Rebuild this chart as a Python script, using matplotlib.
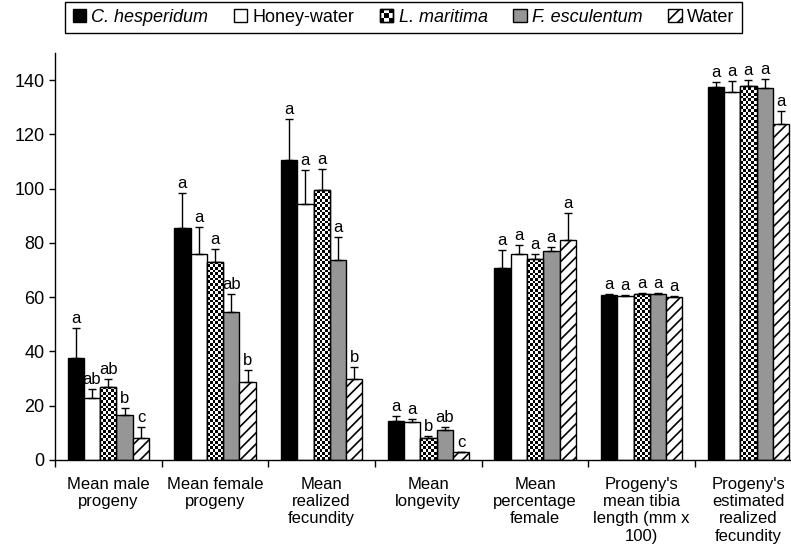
import numpy as np
import matplotlib
matplotlib.use("Agg")
import matplotlib.pyplot as plt
from matplotlib.patches import Rectangle
from matplotlib.legend_handler import HandlerBase

plt.rcParams['font.family'] = ['Liberation Sans', 'DejaVu Sans']
plt.rcParams['font.size'] = 12
plt.rcParams['hatch.linewidth'] = 1.2

# ---------------- data ----------------
categories = ["Mean male\nprogeny", "Mean female\nprogeny", "Mean\nrealized\nfecundity",
              "Mean\nlongevity", "Mean\npercentage\nfemale",
              "Progeny's\nmean tibia\nlength (mm x\n100)",
              "Progeny's\nestimated\nrealized\nfecundity"]
treatments = ["C. hesperidum", "Honey-water", "L. maritima", "F. esculentum", "Water"]

c_hesperidum = [37.6, 85.4, 110.5, 14.5, 70.6, 60.8, 137.3]
honey_water = [23.0, 75.8, 94.2, 13.9, 75.9, 60.5, 135.5]
l_maritima = [26.8, 72.8, 99.6, 8.2, 74.1, 61.2, 137.9]
f_esculentum = [16.6, 54.6, 73.6, 11.0, 77.0, 61.1, 137.1]
water = [8.0, 28.8, 29.7, 2.8, 81.2, 60.1, 123.8]

c_hesperidum_se = [11.0, 13.0, 15.0, 1.8, 6.7, 0.3, 2.1]
honey_water_se = [3.0, 10.2, 12.5, 1.1, 3.3, 0.2, 4.3]
l_maritima_se = [3.0, 4.9, 7.5, 0.6, 1.7, 0.3, 2.1]
f_esculentum_se = [2.7, 6.4, 8.6, 1.2, 1.6, 0.3, 3.2]
water_se = [4.3, 4.4, 4.5, 0.2, 9.9, 0.3, 4.8]

c_hesperidum_lab = ["a", "a", "a", "a", "a", "a", "a"]
honey_water_lab = ["ab", "a", "a", "a", "a", "a", "a"]
l_maritima_lab = ["ab", "a", "a", "b", "a", "a", "a"]
f_esculentum_lab = ["b", "ab", "a", "ab", "a", "a", "a"]
water_lab = ["c", "b", "b", "c", "a", "a", "a"]

means = [c_hesperidum, honey_water, l_maritima, f_esculentum, water]
errs = [c_hesperidum_se, honey_water_se, l_maritima_se, f_esculentum_se, water_se]
labels = [c_hesperidum_lab, honey_water_lab, l_maritima_lab, f_esculentum_lab, water_lab]

# ---------------- styling ----------------
GREY = "#969696"
styles = [
    dict(color="black", hatch=None),
    dict(color="white", hatch=None),
    dict(color="white", hatch="checker"),
    dict(color=GREY, hatch=None),
    dict(color="white", hatch="///"),
]

W, H = 791, 552
fig = plt.figure(figsize=(W / 100, H / 100), dpi=100)
ax = fig.add_axes([55 / W, 92 / H, 746.7 / W, 407 / H])

ncat = len(categories)
x = np.arange(ncat)
bw = 0.153
offsets = (np.arange(5) - 2) * bw

checker_cell_y = 1.0  # data units (~2.7 px)


def checker_image(nrows, ncols):
    r, c = np.indices((nrows, ncols))
    return ((r + c) % 2).astype(float)


for i in range(5):
    xs = x + offsets[i]
    st = styles[i]
    if st["hatch"] == "checker":
        bars = ax.bar(xs, means[i], bw, color="white", edgecolor="black", lw=1, zorder=2)
        for b, v in zip(bars, means[i]):
            nrows = max(1, int(round(v / checker_cell_y)))
            img = checker_image(nrows, 6)
            x0 = b.get_x()
            im = ax.imshow(img, cmap="gray_r", extent=[x0, x0 + bw, 0, nrows * checker_cell_y],
                           origin="lower", interpolation="nearest", aspect="auto", zorder=2.1)
            im.set_clip_path(b)
        ax.bar(xs, means[i], bw, fill=False, edgecolor="black", lw=1, zorder=2.2)
    else:
        ax.bar(xs, means[i], bw, color=st["color"], edgecolor="black", lw=1,
               hatch=st["hatch"], zorder=2)
    ax.errorbar(xs, means[i], yerr=[np.zeros(ncat), errs[i]], fmt="none",
                ecolor="black", elinewidth=1, capsize=3, capthick=1, zorder=3)
    for xi, v, e, t in zip(xs, means[i], errs[i], labels[i]):
        ax.annotate(t, (xi, v + e), xytext=(0, 1.5), textcoords="offset points",
                    ha="center", va="bottom", fontsize=12)

ax.set_xlim(-0.5, ncat - 0.5)
ax.set_ylim(0, 150)
ax.set_yticks(np.arange(0, 141, 20))
ax.set_xticks(np.arange(ncat + 1) - 0.5)
ax.set_xticklabels([])
ax.set_xticks(x, minor=True)
ax.set_xticklabels(categories, minor=True)
ax.tick_params(axis="x", which="major", direction="out", length=5, width=1)
ax.tick_params(axis="x", which="minor", length=0, pad=12)
ax.tick_params(axis="y", direction="out", length=4, width=1, labelsize=13)
for s in ["top", "right"]:
    ax.spines[s].set_visible(False)
for s in ["left", "bottom"]:
    ax.spines[s].set_color("black")
    ax.spines[s].set_linewidth(1)


# ---------------- legend ----------------
class CheckerHandler(HandlerBase):
    def create_artists(self, legend, orig_handle, xdescent, ydescent, width, height, fontsize, trans):
        arts = [Rectangle((-xdescent, -ydescent), width, height, facecolor="white",
                          edgecolor="black", lw=1, transform=trans)]
        n = 3
        cw, ch = width / n, height / n
        for r in range(n):
            for c in range(n):
                if (r + c) % 2 == 0:
                    arts.append(Rectangle((-xdescent + c * cw, -ydescent + r * ch), cw, ch,
                                          facecolor="black", edgecolor="none", transform=trans))
        arts.append(Rectangle((-xdescent, -ydescent), width, height, facecolor="none",
                              edgecolor="black", lw=1, transform=trans))
        return arts


handles = []
for i, st in enumerate(styles):
    if st["hatch"] == "checker":
        handles.append(Rectangle((0, 0), 1, 1, facecolor="white", edgecolor="black"))
    else:
        handles.append(Rectangle((0, 0), 1, 1, facecolor=st["color"], edgecolor="black",
                                 hatch=st["hatch"], lw=1))

leg = fig.legend(handles, treatments, loc="upper center", bbox_to_anchor=(0.510, 0.997),
                 ncol=5, frameon=True, fancybox=False, edgecolor="black", framealpha=1,
                 handlelength=0.75, handleheight=0.75, handletextpad=0.3, columnspacing=1.4,
                 borderpad=0.4, borderaxespad=0, fontsize=13,
                 handler_map={handles[2]: CheckerHandler()})
leg.get_frame().set_linewidth(1)
for t, name in zip(leg.get_texts(), treatments):
    if name not in ("Honey-water", "Water"):
        t.set_fontstyle("italic")

fig.savefig("out.png", dpi=100)
